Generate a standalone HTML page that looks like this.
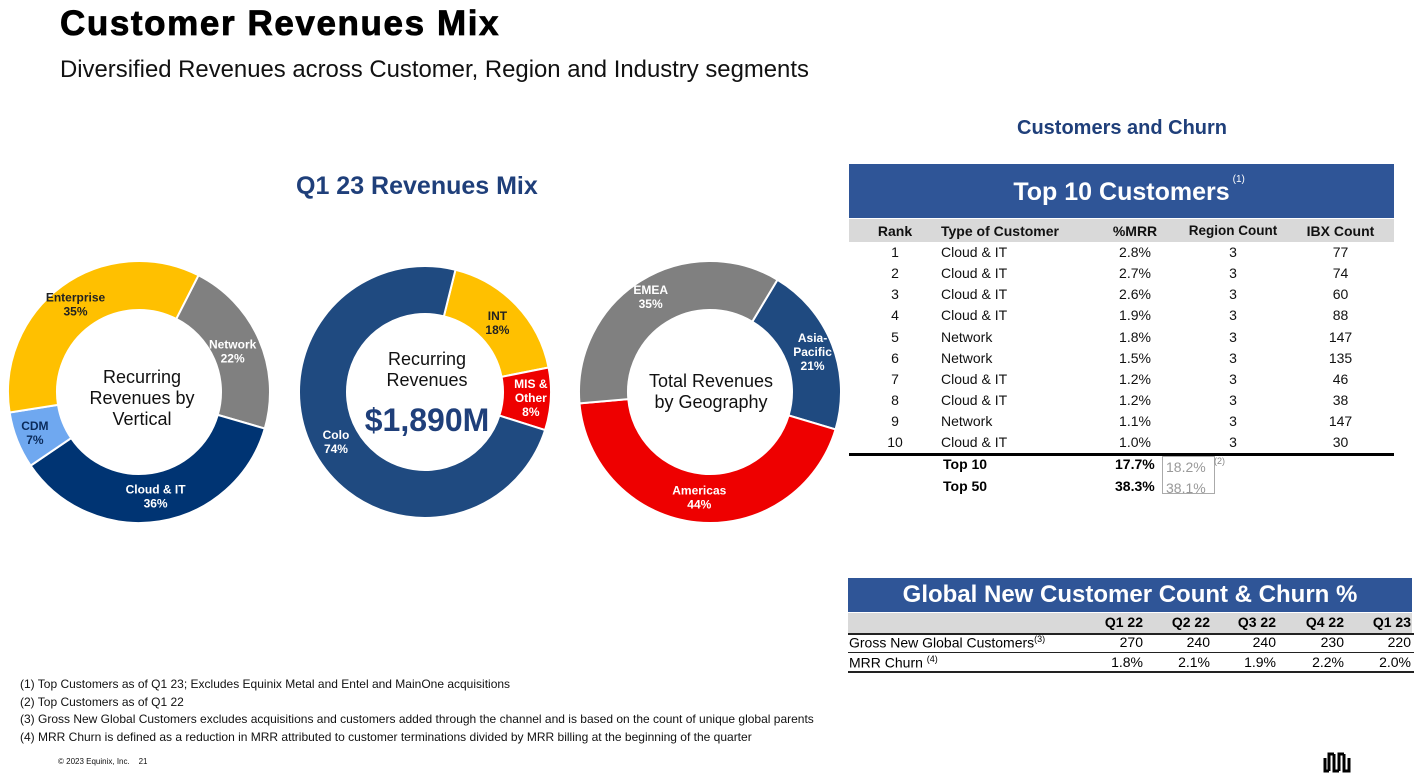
<!DOCTYPE html>
<html><head><meta charset="utf-8"><style>
body{margin:0;width:1415px;height:774px;background:#fff;overflow:hidden;font-family:"Liberation Sans",sans-serif;position:relative}
.a{position:absolute;white-space:nowrap}
.t td{padding:0;height:21.2px;font-size:14px;color:#111}
.c{text-align:center}.r{text-align:right}
</style></head><body>
<div class="a" style="left:60px;top:4px;font-size:35px;font-weight:900;letter-spacing:1.6px;color:#000;-webkit-text-stroke:0.8px #000">Customer Revenues Mix</div>
<div class="a" style="left:60px;top:56px;font-size:23.9px;color:#111">Diversified Revenues across Customer, Region and Industry segments</div>
<div class="a" style="left:296px;top:172px;font-size:25px;font-weight:bold;color:#1F3F7A">Q1 23 Revenues Mix</div>

<svg id="donuts" class="a" style="left:0;top:240px" width="860" height="300"></svg>

<div class="a" style="left:1017px;top:117px;font-size:20px;font-weight:bold;color:#1F3F7A">Customers and Churn</div>
<div class="a" style="left:849px;top:164px;width:545px;height:54px;background:#2F5597;color:#fff;text-align:center;font-size:25px;font-weight:bold;line-height:56px">Top 10 Customers<span style="position:absolute;font-size:10px;font-weight:normal;line-height:10px;top:11px;margin-left:3px">(1)</span></div>
<div class="a" style="left:849px;top:219px;width:545px;height:23px;background:#D9D9D9"></div>
<table class="a t" id="top10" style="left:849px;top:220px;width:545px;border-collapse:collapse;table-layout:fixed">
<colgroup><col style="width:92px"><col style="width:150px"><col style="width:88px"><col style="width:108px"><col style="width:107px"></colgroup>
<tr style="font-weight:bold"><td class="c">Rank</td><td>Type of Customer</td><td class="c">%MRR</td><td class="c" style="font-size:13.5px">Region Count</td><td class="c">IBX Count</td></tr>
</table>
<div class="a" style="left:849px;top:453px;width:545px;height:3px;background:#000"></div>
<div class="a" style="left:943px;top:456px;font-size:14px;font-weight:bold">Top 10</div>
<div class="a" style="left:943px;top:478px;font-size:14px;font-weight:bold">Top 50</div>
<div class="a" style="left:1115px;top:456px;font-size:14px;font-weight:bold">17.7%</div>
<div class="a" style="left:1115px;top:478px;font-size:14px;font-weight:bold">38.3%</div>
<div class="a" style="left:1162px;top:456px;width:48px;height:36px;border:1px solid #aaa;color:#999;font-size:14px;line-height:21px;padding-left:3px">18.2%<br>38.1%</div>
<div class="a" style="left:1214px;top:456px;font-size:9px;color:#888">(2)</div>

<div class="a" style="left:848px;top:578px;width:564px;height:34px;background:#2F5597;color:#fff;text-align:center;font-size:24px;font-weight:bold;line-height:34px">Global New Customer Count &amp; Churn %</div>
<div class="a" style="left:848px;top:613px;width:564px;height:20px;background:#D9D9D9"></div>
<div id="churn"></div>

<div class="a" style="left:20px;top:676px;font-size:12px;line-height:17.5px;color:#111">(1) Top Customers as of Q1 23; Excludes Equinix Metal and Entel and MainOne acquisitions<br>(2) Top Customers as of Q1 22<br>(3) Gross New Global Customers excludes acquisitions and customers added through the channel and is based on the count of unique global parents<br>(4) MRR Churn is defined as a reduction in MRR attributed to customer terminations divided by MRR billing at the beginning of the quarter</div>
<div class="a" style="left:58px;top:757px;font-size:8px;color:#111">© 2023 Equinix, Inc.&nbsp;&nbsp;&nbsp; 21</div>
<svg class="a" style="left:1322px;top:750px" width="40" height="24"><path d="M3 8v13h4M7 21V4h5M12 4v17h5M17 21V4h5M22 4v17h5V8" fill="none" stroke="#000" stroke-width="3"/></svg>

<script>
const verticalLabels=["Network","Cloud & IT","CDM","Enterprise"];
const verticalValues=[22,36,7,35];
const productLabels=["INT","MIS & Other","Colo"];
const productValues=[18,8,74];
const geoLabels=["Asia-Pacific","Americas","EMEA"];
const geoValues=[21,44,35];
const rankData=[1,2,3,4,5,6,7,8,9,10];
const typeData=["Cloud & IT","Cloud & IT","Cloud & IT","Cloud & IT","Network","Network","Cloud & IT","Cloud & IT","Network","Cloud & IT"];
const mrrData=[2.8,2.7,2.6,1.9,1.8,1.5,1.2,1.2,1.1,1.0];
const regionData=[3,3,3,3,3,3,3,3,3,3];
const ibxData=[77,74,60,88,147,135,46,38,147,30];
const quarters=["Q1 22","Q2 22","Q3 22","Q4 22","Q1 23"];
const grossNew=[270,240,240,230,220];
const mrrChurn=[1.8,2.1,1.9,2.2,2.0];

const NS="http://www.w3.org/2000/svg";
const svg=document.getElementById('donuts');
function pt(cx,cy,r,a){const t=a*Math.PI/180;return [cx+r*Math.sin(t),cy-r*Math.cos(t)];}
function donut(name,cx,cy,ro,ri,start,vals,labels,colors,tcolors,lr){
  const tot=vals.reduce((s,v)=>s+v,0);let a=start;
  vals.forEach((v,i)=>{
    const sw=v/tot*360,b=a+sw,lg=sw>180?1:0;
    const p1=pt(cx,cy,ro,a),p2=pt(cx,cy,ro,b),p3=pt(cx,cy,ri,b),p4=pt(cx,cy,ri,a);
    const p=document.createElementNS(NS,'path');
    p.setAttribute('d',`M${p1}A${ro},${ro} 0 ${lg} 1 ${p2}L${p3}A${ri},${ri} 0 ${lg} 0 ${p4}Z`);
    p.setAttribute('fill',colors[i]);p.setAttribute('stroke','#fff');p.setAttribute('stroke-width','2');
    
    
    svg.appendChild(p);
    const m=pt(cx,cy,lr[i],a+sw/2);
    const t=document.createElementNS(NS,'text');
    t.setAttribute('x',m[0]);t.setAttribute('text-anchor','middle');t.setAttribute('font-size','12');t.setAttribute('font-weight','bold');t.setAttribute('fill',tcolors[i]);
    
    
    const parts=labels[i].split('|').concat([v+'%']);
    const y0=m[1]-(parts.length-1)*7+4;
    parts.forEach((s,k)=>{const ts=document.createElementNS(NS,'tspan');ts.setAttribute('x',m[0]);ts.setAttribute('y',y0+k*14);ts.textContent=s;t.appendChild(ts);});
    svg.appendChild(t);
    a=b;
  });
}
donut('vertical',139,152,131,82,27,verticalValues,verticalLabels.map(s=>s),["#808080","#003473","#6FA8F0","#FFC000"],["#fff","#fff","#0a2a5a","#222"],[102,106,112,108]);
donut('product',425,152,126,78,14,productValues,productLabels.map(s=>s==="MIS & Other"?"MIS &|Other":s),["#FFC000","#EE0000","#1F4A80"],["#222","#fff","#fff"],[100,106,102]);
donut('geo',710,152,131,82,31,geoValues,geoLabels.map(s=>s==="Asia-Pacific"?"Asia-|Pacific":s),["#1F4A80","#EE0000","#808080"],["#fff","#fff","#fff"],[110,106,112]);
function ctext(x,y,lines,size,color,bold,name){
  const t=document.createElementNS(NS,'text');t.setAttribute('text-anchor','middle');t.setAttribute('font-size',size);t.setAttribute('fill',color);if(bold)t.setAttribute('font-weight','bold');
  
  
  lines.forEach((s,k)=>{const ts=document.createElementNS(NS,'tspan');ts.setAttribute('x',x);ts.setAttribute('y',y+k*21);ts.textContent=s;t.appendChild(ts);});
  svg.appendChild(t);
}
ctext(142,143,["Recurring","Revenues by","Vertical"],18,"#111",false,'vertical-center-label');
ctext(427,125,["Recurring","Revenues"],18,"#111",false,'product-center-label');
ctext(427,191,["$1,890M"],32,"#1F3F7A",true,'recurring-total');
ctext(711,147,["Total Revenues","by Geography"],18,"#111",false,'geo-center-label');

const tb=document.getElementById('top10');
rankData.forEach((r,i)=>{
  const tr=document.createElement('tr');
  
  
  tr.innerHTML=`<td class="c">${r}</td><td>${typeData[i]}</td><td class="c">${mrrData[i].toFixed(1)}%</td><td class="c">${regionData[i]}</td><td class="c">${ibxData[i]}</td>`;
  tb.appendChild(tr);
});
const ch=document.getElementById('churn');
const ends=[1143,1210,1276,1344,1411];
function cell(txt,x,y,bold,name){const d=document.createElement('div');d.className='a';d.style.cssText=`right:${1415-x}px;top:${y}px;font-size:14px;${bold?'font-weight:bold;':''}`;d.textContent=txt;
  
  
  ch.appendChild(d);}
quarters.forEach((q,i)=>{cell(q,ends[i],614,true,'quarter-header');cell(String(grossNew[i]),ends[i],634,false,'gross-new-value');cell(mrrChurn[i].toFixed(1)+'%',ends[i],654,false,'mrr-churn-value');});
function lbl(html,y,name){const d=document.createElement('div');d.className='a';d.style.cssText=`left:849px;top:${y}px;font-size:14px`;d.innerHTML=html;
  
  
  ch.appendChild(d);}
lbl('Gross New Global Customers<sup style="font-size:9px">(3)</sup>',634,'gross-new-label');
lbl('MRR Churn <sup style="font-size:9px">(4)</sup>',654,'mrr-churn-label');
[[633,2],[652,1],[671,2]].forEach(([y,h])=>{const d=document.createElement('div');d.className='a';d.style.cssText=`left:848px;top:${y}px;width:566px;height:${h}px;background:#222`;
  
  
  ch.appendChild(d);});
</script>
</body></html>
